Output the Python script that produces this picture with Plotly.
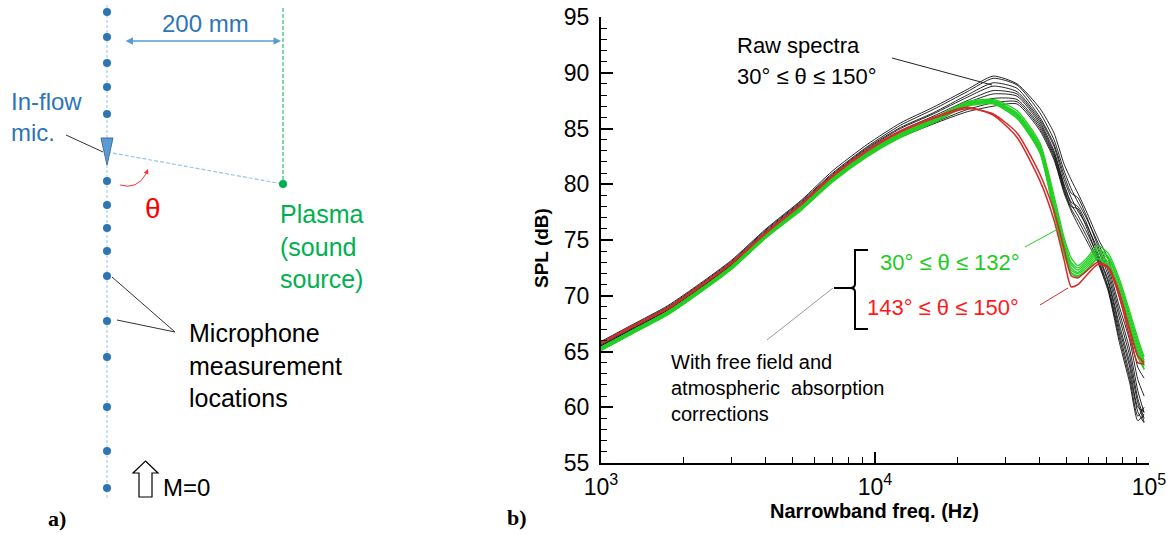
import plotly.graph_objects as go

W, H = 1172, 535

# ---------------- spectra data ----------------
freq_hz = [1000, 1300, 1750, 2300, 3000, 4000, 5400, 7000, 9400, 12400, 16300,
           21700, 27000, 33000, 40000, 45000, 49000, 52000, 55000, 59000, 65000,
           71000, 78000, 85000, 91000, 96000]

raw_1 = [65.9, 67.4, 69.1, 71.1, 73.2, 76.0, 78.6, 81.2, 83.6, 85.5, 86.9, 88.5, 89.7, 89.0, 86.8, 84.6, 81.8, 80.4, 79.2, 77.6, 75.2, 73.3, 69.8, 66.8, 63.6, 62.6]
raw_2 = [65.8, 67.3, 69.0, 71.0, 73.1, 75.9, 78.5, 81.0, 83.4, 85.3, 86.7, 88.3, 89.5, 88.9, 86.4, 84.0, 81.2, 79.6, 78.4, 77.0, 74.8, 72.6, 69.0, 66.0, 62.5, 61.0]
raw_3 = [65.7, 67.2, 68.9, 70.9, 73.0, 75.8, 78.4, 80.9, 83.3, 85.1, 86.4, 88.0, 89.1, 88.6, 86.0, 83.6, 80.8, 79.2, 78.8, 77.2, 74.5, 72.2, 68.5, 65.2, 61.5, 59.5]
raw_4 = [65.6, 67.1, 68.8, 70.8, 72.9, 75.7, 78.3, 80.8, 83.2, 85.0, 86.3, 87.8, 88.8, 88.3, 85.8, 83.4, 80.4, 78.8, 77.6, 76.4, 74.2, 71.8, 68.0, 64.6, 60.8, 59.0]
raw_5 = [65.5, 67.0, 68.7, 70.7, 72.8, 75.6, 78.2, 80.7, 83.0, 84.8, 86.1, 87.5, 88.4, 88.1, 85.6, 83.0, 80.0, 78.4, 78.0, 76.6, 73.8, 71.4, 67.4, 64.0, 60.4, 58.7]
raw_6 = [65.5, 67.0, 68.7, 70.7, 72.8, 75.6, 78.1, 80.6, 82.9, 84.6, 85.9, 87.3, 88.1, 87.9, 85.4, 82.8, 79.8, 78.2, 77.2, 75.8, 73.6, 71.2, 67.0, 63.6, 60.0, 59.6]
raw_7 = [65.4, 66.9, 68.6, 70.6, 72.7, 75.5, 78.0, 80.5, 82.8, 84.5, 85.7, 87.0, 87.7, 87.6, 85.2, 82.6, 79.6, 78.0, 77.8, 76.2, 73.4, 70.8, 66.6, 63.0, 59.6, 58.6]
raw_8 = [65.3, 66.8, 68.5, 70.5, 72.6, 75.4, 77.9, 80.4, 82.7, 84.3, 85.5, 86.7, 87.3, 87.4, 85.0, 82.4, 79.4, 77.8, 76.8, 75.4, 73.2, 70.6, 66.2, 62.6, 59.2, 60.0]
raw_9 = [65.2, 66.7, 68.4, 70.4, 72.5, 75.3, 77.8, 80.3, 82.6, 84.2, 85.4, 86.5, 87.0, 87.2, 84.8, 82.2, 79.2, 77.6, 76.4, 75.0, 73.0, 70.4, 65.8, 62.2, 58.8, 59.4]

green_1 = [65.4, 66.9, 68.6, 70.6, 72.7, 75.5, 78.1, 80.6, 82.9, 84.6, 85.9, 87.4, 87.6, 86.6, 83.7, 79.0, 75.2, 73.4, 72.7, 73.3, 74.5, 73.8, 71.5, 68.6, 66.2, 64.5]
green_2 = [65.3, 66.8, 68.5, 70.5, 72.6, 75.4, 78.0, 80.5, 82.8, 84.5, 85.8, 87.3, 87.5, 86.4, 83.5, 78.6, 74.9, 73.0, 72.5, 73.1, 74.2, 73.5, 71.2, 68.3, 65.9, 64.2]
green_3 = [65.3, 66.8, 68.5, 70.5, 72.6, 75.4, 77.9, 80.4, 82.7, 84.4, 85.7, 87.2, 87.4, 86.3, 83.3, 78.3, 74.6, 72.8, 72.3, 72.9, 74.0, 73.3, 71.0, 68.0, 65.6, 64.0]
green_4 = [65.2, 66.7, 68.4, 70.4, 72.5, 75.3, 77.9, 80.4, 82.7, 84.4, 85.7, 87.2, 87.4, 86.2, 83.1, 78.0, 74.3, 72.5, 72.1, 72.7, 73.8, 73.0, 70.7, 67.7, 65.3, 63.7]
green_5 = [65.2, 66.7, 68.4, 70.4, 72.5, 75.3, 77.8, 80.3, 82.6, 84.3, 85.6, 87.1, 87.3, 86.1, 83.0, 77.8, 74.1, 72.3, 72.0, 72.5, 73.6, 72.8, 70.4, 67.4, 65.0, 63.4]
green_6 = [65.1, 66.6, 68.3, 70.3, 72.4, 75.2, 77.8, 80.3, 82.6, 84.3, 85.6, 87.1, 87.3, 86.0, 82.9, 77.6, 73.9, 72.1, 71.8, 72.3, 73.4, 72.6, 70.2, 67.2, 64.8, 63.8]
green_7 = [65.1, 66.6, 68.3, 70.3, 72.4, 75.2, 77.7, 80.2, 82.5, 84.2, 85.5, 87.0, 87.2, 85.9, 82.8, 77.4, 73.7, 72.0, 71.7, 72.2, 73.3, 72.5, 70.0, 67.0, 64.5, 63.4]

red_1 = [65.8, 67.3, 68.9, 70.9, 73.0, 75.7, 78.3, 80.8, 83.1, 84.8, 86.0, 86.9, 86.2, 84.2, 80.3, 76.8, 73.2, 70.8, 71.0, 71.8, 72.8, 72.5, 69.9, 66.3, 64.0, 63.9]
red_2 = [65.7, 67.2, 68.8, 70.8, 72.9, 75.6, 78.2, 80.7, 83.0, 84.7, 85.9, 86.8, 86.3, 84.6, 80.9, 77.6, 74.2, 71.8, 71.6, 72.2, 73.0, 72.6, 70.3, 67.0, 64.6, 64.0]

raw_spectra = [raw_1, raw_2, raw_3, raw_4, raw_5, raw_6, raw_7, raw_8, raw_9]
green_spectra = [green_1, green_2, green_3, green_4, green_5, green_6, green_7]
red_spectra = [red_1, red_2]

y_ticks = [55, 60, 65, 70, 75, 80, 85, 90, 95]
x_tick_vals = [1e3, 1e4, 1e5]
x_tick_text = ["10<sup>3</sup>", "10<sup>4</sup>", "10<sup>5</sup>"]
x_minor_vals = [2e3, 3e3, 4e3, 5e3, 6e3, 7e3, 8e3, 9e3,
                2e4, 3e4, 4e4, 5e4, 6e4, 7e4, 8e4, 9e4]

# ---------------- schematic data (panel a) ----------------
array_x = 107
mic_y = [12, 37, 63, 87, 114, 181, 205, 228, 251, 276, 321, 357, 407, 451, 488]
inflow_mic_y = 150
source_x, source_y = 283, 184
array_top, array_bottom = 5, 500

BLUE = "#2E75B6"
LBLUE = "#5B9BD5"
DASHBLUE = "#9DC3E6"
OFFGREEN = "#00B050"
GREEN = "#22D022"
GREEN_TXT = "#1ECB1E"
RED = "#D42A2A"
RED_TXT = "#FF1A1A"
FONT = "Arial, Liberation Sans, sans-serif"

fig = go.Figure()

# spectra
for s in raw_spectra:
    fig.add_trace(go.Scatter(x=freq_hz, y=s, mode="lines", line=dict(color="rgba(0,0,0,0.85)", width=1, shape="spline", smoothing=0.6),
                             xaxis="x", yaxis="y", hoverinfo="skip"))
for s in green_spectra:
    fig.add_trace(go.Scatter(x=freq_hz, y=s, mode="lines", line=dict(color=GREEN, width=1.3, shape="spline", smoothing=0.6),
                             xaxis="x", yaxis="y", hoverinfo="skip"))
for s in red_spectra:
    fig.add_trace(go.Scatter(x=freq_hz, y=s, mode="lines", line=dict(color=RED, width=1.5, shape="spline", smoothing=0.6),
                             xaxis="x", yaxis="y", hoverinfo="skip"))

# schematic (canvas axes x2/y2 in pixel-like units)
fig.add_trace(go.Scatter(x=[array_x, array_x], y=[array_top, array_bottom], mode="lines",
                         line=dict(color=DASHBLUE, width=1, dash="3px,2px"), xaxis="x2", yaxis="y2", hoverinfo="skip"))
fig.add_trace(go.Scatter(x=[array_x, source_x], y=[inflow_mic_y + 2, source_y], mode="lines",
                         line=dict(color=DASHBLUE, width=1.2, dash="4px,2px"), xaxis="x2", yaxis="y2", hoverinfo="skip"))
fig.add_trace(go.Scatter(x=[source_x, source_x], y=[8, source_y], mode="lines",
                         line=dict(color=OFFGREEN, width=1, dash="4px,2px"), xaxis="x2", yaxis="y2", hoverinfo="skip"))
fig.add_trace(go.Scatter(x=[array_x] * len(mic_y), y=mic_y, mode="markers",
                         marker=dict(color=BLUE, size=8), xaxis="x2", yaxis="y2", hoverinfo="skip"))
tri_w, tri_up, tri_dn = 6, 12, 15
fig.add_trace(go.Scatter(x=[array_x - tri_w, array_x + tri_w, array_x, array_x - tri_w],
                         y=[inflow_mic_y - tri_up, inflow_mic_y - tri_up, inflow_mic_y + tri_dn, inflow_mic_y - tri_up],
                         mode="lines", fill="toself", fillcolor=LBLUE, line=dict(color="#41719C", width=1),
                         xaxis="x2", yaxis="y2", hoverinfo="skip"))
fig.add_trace(go.Scatter(x=[source_x], y=[source_y], mode="markers", marker=dict(color=OFFGREEN, size=8),
                         xaxis="x2", yaxis="y2", hoverinfo="skip"))

annotations = []
shapes = []


def txt(x, y, text, size, color="black", xanchor="left", bold=False, family=FONT, **kw):
    if bold:
        text = "<b>" + text + "</b>"
    annotations.append(dict(x=x, y=y, xref="x2", yref="y2", text=text, showarrow=False,
                            xanchor=xanchor, yanchor="middle", align="left",
                            font=dict(size=size, color=color, family=family), **kw))


def seg(x0, y0, x1, y1, color="black", width=1):
    shapes.append(dict(type="line", xref="x2", yref="y2", x0=x0, y0=y0, x1=x1, y1=y1,
                       line=dict(color=color, width=width)))


# panel a texts
txt(205, 23, "200 mm", 24, BLUE, xanchor="center")
txt(9, 117, "In-flow<br>mic.", 24, BLUE)
txt(153, 208, "θ", 28, "#FF0000", xanchor="center")
txt(278, 246, "Plasma<br>(sound<br>source)", 25, OFFGREEN)
txt(187, 365, "Microphone<br>measurement<br>locations", 25, "black")
txt(161, 487, "M=0", 24, "black")
txt(57, 518, "a)", 22, "black", xanchor="center", bold=True, family="Times New Roman, Liberation Serif, serif")
txt(517, 517, "b)", 22, "black", xanchor="center", bold=True, family="Times New Roman, Liberation Serif, serif")

# 200 mm double arrow
annotations.append(dict(x=281, y=41, ax=124, ay=41, xref="x2", yref="y2", axref="x2", ayref="y2",
                        text="", showarrow=True, arrowhead=2, startarrowhead=2, arrowside="end+start",
                        arrowsize=1, startarrowsize=1, arrowwidth=1.5, arrowcolor=LBLUE))
# red curved theta arrow
shapes.append(dict(type="path", xref="x2", yref="y2", path="M 120 185 Q 137 190 146 174",
                   line=dict(color="#FF3030", width=1)))
annotations.append(dict(x=148, y=169, ax=145.5, ay=175, xref="x2", yref="y2", axref="x2", ayref="y2",
                        text="", showarrow=True, arrowhead=2, arrowsize=1, arrowwidth=1, arrowcolor="#FF3030"))
# leaders panel a
seg(66, 135, 103, 152, "#333333", 1)
seg(112, 277, 175, 332, "#333333", 1)
seg(117, 320, 175, 332, "#333333", 1)
# hollow up arrow (M=0)
acx, atop, abot, ahw, ahh, asw = 145.5, 461, 497, 12.5, 12, 6.5
shapes.append(dict(type="path", xref="x2", yref="y2",
                   path=(f"M {acx} {atop} L {acx + ahw} {atop + ahh} L {acx + asw} {atop + ahh} L {acx + asw} {abot} "
                         f"L {acx - asw} {abot} L {acx - asw} {atop + ahh} L {acx - ahw} {atop + ahh} Z"),
                   fillcolor="white", line=dict(color="black", width=1.2)))

# panel b annotations
txt(735, 45, "Raw spectra", 22)
txt(735, 76, "30° ≤ θ ≤ 150°", 22)
txt(878, 262, "30° ≤ θ ≤ 132°", 22, GREEN_TXT)
txt(865, 307, "143° ≤ θ ≤ 150°", 22, RED_TXT)
txt(669, 388, "With free field and<br>atmospheric  absorption<br>corrections", 20)
txt(541, 248, "SPL (dB)", 19, bold=True, xanchor="center", textangle=-90)
txt(874, 511, "Narrowband freq. (Hz)", 20, bold=True, xanchor="center")

seg(892, 58, 992, 85, "#222222", 1)
seg(1025, 247, 1058, 229, GREEN, 1)
seg(1040, 305, 1068, 288, "#C83030", 1)
seg(767, 340, 833, 288, "#999999", 1)
# brace
shapes.append(dict(type="path", xref="x2", yref="y2",
                   path="M 868 250 L 855 250 L 855 284 Q 855 288 850 288 L 834 288 M 850 288 Q 855 288 855 292 L 855 329 L 868 329",
                   line=dict(color="black", width=2)))

axis_font = dict(family=FONT, size=23, color="black")
fig.update_layout(
    template="none",
    width=W, height=H, autosize=False,
    margin=dict(l=0, r=0, t=0, b=0, pad=0),
    paper_bgcolor="white", plot_bgcolor="rgba(0,0,0,0)",
    showlegend=False,
    xaxis=dict(type="log", range=[3, 5], domain=[601 / W, 1149 / W], anchor="y", automargin=False,
               tickmode="array", tickvals=x_tick_vals, ticktext=x_tick_text, ticks="inside", ticklen=11, tickwidth=2,
               tickcolor="black", showline=True, linecolor="black", linewidth=2, showgrid=False,
               zeroline=False, tickfont=axis_font, ticklabelstandoff=2,
               minor=dict(tickmode="array", tickvals=x_minor_vals, ticks="inside", ticklen=6, tickwidth=1,
                          tickcolor="black", showgrid=False)),
    yaxis=dict(range=[55, 95], domain=[1 - 463 / H, 1 - 17 / H], anchor="x", automargin=False,
               tickmode="array", tickvals=y_ticks, ticks="inside", ticklen=12, tickwidth=2, tickcolor="black",
               showline=True, linecolor="black", linewidth=2, showgrid=False, zeroline=False,
               tickfont=axis_font, ticklabelstandoff=5,
               minor=dict(dtick=1, ticks="inside", ticklen=6, tickwidth=1, tickcolor="black", showgrid=False)),
    xaxis2=dict(domain=[0, 1], range=[0, W], anchor="y2", visible=False, fixedrange=True, automargin=False),
    yaxis2=dict(domain=[0, 1], range=[H, 0], anchor="x2", visible=False, fixedrange=True, automargin=False),
    annotations=annotations,
    shapes=shapes,
)

fig.write_html("out.html", config={"displayModeBar": False},
               post_script="document.body.style.margin='0';document.body.style.padding='0';document.body.style.overflow='hidden';")
